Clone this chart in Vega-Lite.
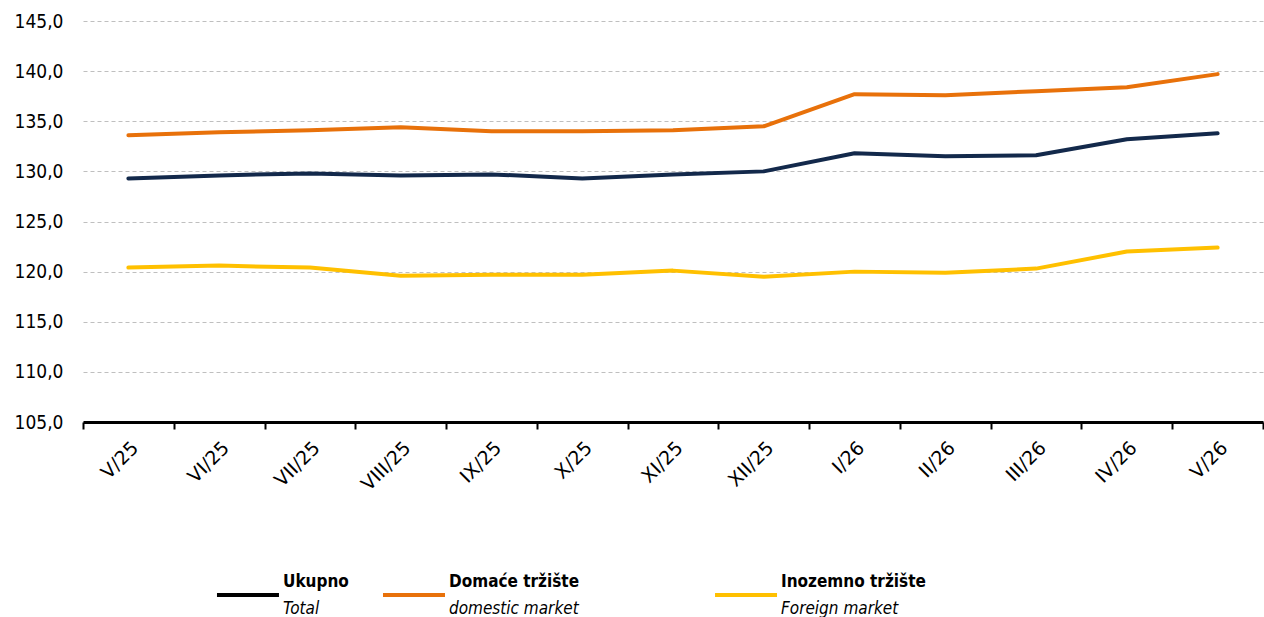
{
  "$schema": "https://vega.github.io/schema/vega-lite/v6.json",
  "padding": {"left": 14, "top": 12, "right": 0, "bottom": 0},
  "config": {"view": {"stroke": null}, "font": "DejaVu Sans Condensed", "concat": {"spacing": 78}},
  "datasets": {
    "series": [
      {"month": "V/25", "series": "Ukupno", "value": 129.3},
      {"month": "VI/25", "series": "Ukupno", "value": 129.6},
      {"month": "VII/25", "series": "Ukupno", "value": 129.8},
      {"month": "VIII/25", "series": "Ukupno", "value": 129.6},
      {"month": "IX/25", "series": "Ukupno", "value": 129.7},
      {"month": "X/25", "series": "Ukupno", "value": 129.3},
      {"month": "XI/25", "series": "Ukupno", "value": 129.7},
      {"month": "XII/25", "series": "Ukupno", "value": 130.0},
      {"month": "I/26", "series": "Ukupno", "value": 131.8},
      {"month": "II/26", "series": "Ukupno", "value": 131.5},
      {"month": "III/26", "series": "Ukupno", "value": 131.6},
      {"month": "IV/26", "series": "Ukupno", "value": 133.2},
      {"month": "V/26", "series": "Ukupno", "value": 133.8},
      {"month": "V/25", "series": "Domaće tržište", "value": 133.6},
      {"month": "VI/25", "series": "Domaće tržište", "value": 133.9},
      {"month": "VII/25", "series": "Domaće tržište", "value": 134.1},
      {"month": "VIII/25", "series": "Domaće tržište", "value": 134.4},
      {"month": "IX/25", "series": "Domaće tržište", "value": 134.0},
      {"month": "X/25", "series": "Domaće tržište", "value": 134.0},
      {"month": "XI/25", "series": "Domaće tržište", "value": 134.1},
      {"month": "XII/25", "series": "Domaće tržište", "value": 134.5},
      {"month": "I/26", "series": "Domaće tržište", "value": 137.7},
      {"month": "II/26", "series": "Domaće tržište", "value": 137.6},
      {"month": "III/26", "series": "Domaće tržište", "value": 138.0},
      {"month": "IV/26", "series": "Domaće tržište", "value": 138.4},
      {"month": "V/26", "series": "Domaće tržište", "value": 139.7},
      {"month": "V/25", "series": "Inozemno tržište", "value": 120.4},
      {"month": "VI/25", "series": "Inozemno tržište", "value": 120.6},
      {"month": "VII/25", "series": "Inozemno tržište", "value": 120.4},
      {"month": "VIII/25", "series": "Inozemno tržište", "value": 119.6},
      {"month": "IX/25", "series": "Inozemno tržište", "value": 119.7},
      {"month": "X/25", "series": "Inozemno tržište", "value": 119.7},
      {"month": "XI/25", "series": "Inozemno tržište", "value": 120.1},
      {"month": "XII/25", "series": "Inozemno tržište", "value": 119.5},
      {"month": "I/26", "series": "Inozemno tržište", "value": 120.0},
      {"month": "II/26", "series": "Inozemno tržište", "value": 119.9},
      {"month": "III/26", "series": "Inozemno tržište", "value": 120.3},
      {"month": "IV/26", "series": "Inozemno tržište", "value": 122.0},
      {"month": "V/26", "series": "Inozemno tržište", "value": 122.4}
    ],
    "legend": [
      {"key": "Ukupno", "sub": "Total"},
      {"key": "Domaće tržište", "sub": "domestic market"},
      {"key": "Inozemno tržište", "sub": "Foreign market"}
    ]
  },
  "resolve": {"scale": {"color": "independent", "x": "independent"}},
  "vconcat": [
    {
      "width": 1180,
      "height": 401,
      "data": {"name": "series"},
      "mark": {"type": "line", "strokeWidth": 4, "strokeCap": "round", "strokeJoin": "round"},
      "encoding": {
        "x": {
          "field": "month", "type": "ordinal", "bandPosition": 0.5,
          "sort": ["V/25", "VI/25", "VII/25", "VIII/25", "IX/25", "X/25", "XI/25", "XII/25", "I/26", "II/26", "III/26", "IV/26", "V/26"],
          "scale": {"type": "band", "paddingInner": 0, "paddingOuter": 0},
          "axis": {"title": null, "labelAngle": -45, "labelFont": "DejaVu Sans", "labelFontSize": 19, "labelColor": "#000000", "domainColor": "#000000", "domainWidth": 3, "tickBand": "extent", "tickColor": "#000000", "tickWidth": 2, "tickSize": 7, "labelPadding": 9, "grid": false}
        },
        "y": {
          "field": "value", "type": "quantitative",
          "scale": {"domain": [105, 145], "zero": false, "nice": false},
          "axis": {"title": null, "values": [105, 110, 115, 120, 125, 130, 135, 140, 145], "labelExpr": "replace(format(datum.value, '.1f'), '.', ',')", "labelFontSize": 19, "labelColor": "#000000", "domain": false, "ticks": false, "labelPadding": 20, "gridColor": "#bfbfbf", "gridDash": [4, 3], "gridWidth": 1}
        },
        "color": {
          "field": "series", "type": "nominal",
          "scale": {"domain": ["Ukupno", "Domaće tržište", "Inozemno tržište"], "range": ["#13294b", "#e8710a", "#ffc000"]},
          "legend": null
        }
      }
    },
    {
      "width": 932,
      "height": 40,
      "data": {"name": "legend"},
      "encoding": {
        "x": {
          "field": "key", "type": "nominal", "bandPosition": 0,
          "scale": {"type": "band", "domain": ["Ukupno", "Domaće tržište", " ", "Inozemno tržište"], "paddingInner": 0, "paddingOuter": 0.807},
          "axis": null
        }
      },
      "layer": [
        {
          "mark": {"type": "tick", "orient": "horizontal", "thickness": 4, "size": 62, "xOffset": -52, "opacity": 1},
          "encoding": {
            "color": {"field": "key", "type": "nominal", "scale": {"domain": ["Ukupno", "Domaće tržište", "Inozemno tržište"], "range": ["#000000", "#e8710a", "#ffc000"]}, "legend": null}
          }
        },
        {
          "mark": {"type": "text", "align": "left", "baseline": "middle", "dx": 66, "dy": -13, "fontWeight": "bold", "fontSize": 17, "color": "#000000"},
          "encoding": {"text": {"field": "key"}}
        },
        {
          "mark": {"type": "text", "align": "left", "baseline": "middle", "dx": 66, "dy": 14, "fontStyle": "italic", "fontSize": 17, "color": "#000000"},
          "encoding": {"text": {"field": "sub"}}
        }
      ]
    }
  ]
}
